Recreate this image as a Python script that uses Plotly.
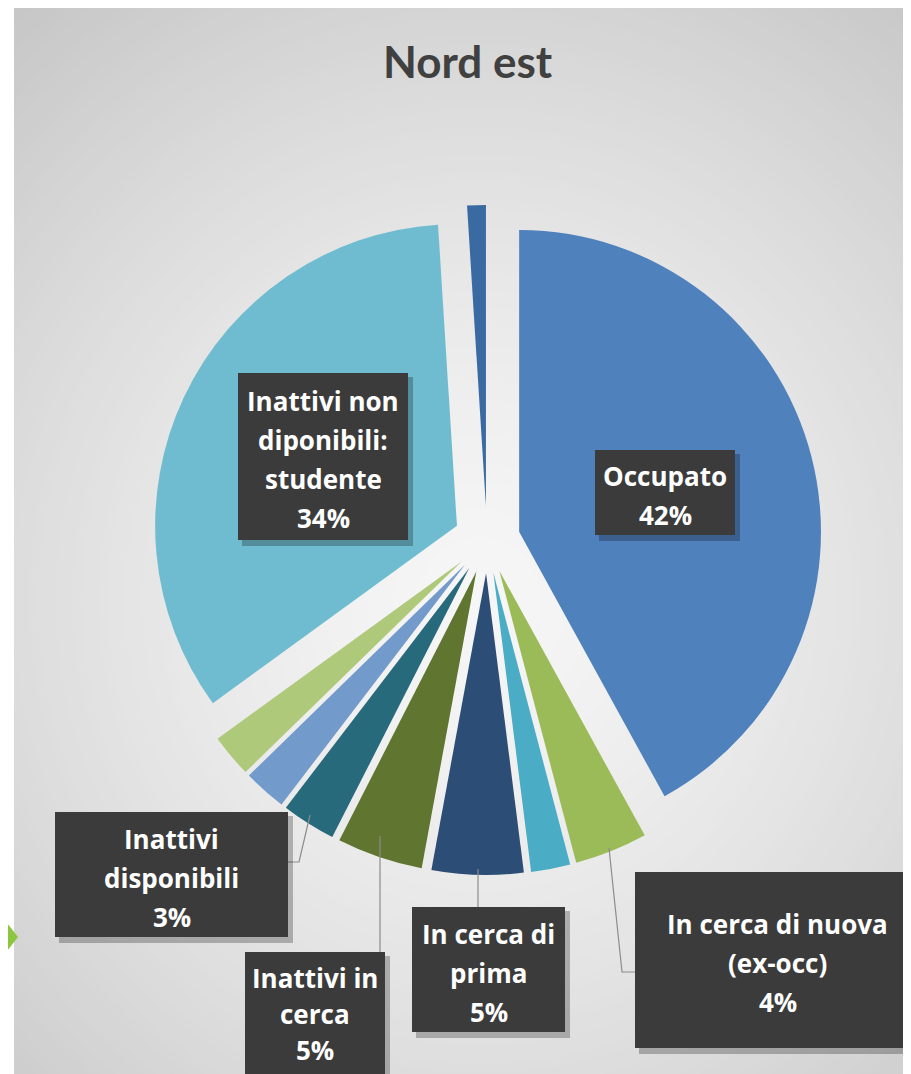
import plotly.graph_objects as go

# the page body adds an 8px margin; the figure is drawn from (8, 8) of the window
OFF = 8
W, H = 911 - OFF, 1074 - OFF

# ---- data ----
categories = [
    "Occupato",
    "In cerca di nuova (ex-occ)",
    "In cerca: altro",
    "In cerca di prima",
    "Inattivi in cerca",
    "Inattivi disponibili",
    "Inattivi non disponibili: altro",
    "Inattivi non disponibili: casalinga",
    "Inattivi non diponibili: studente",
    "Non indicato",
]
values = [42, 3.9, 2.1, 4.9, 4.6, 2.9, 2.3, 2.3, 34, 1.0]
label_lines = {
    0: ["Occupato"],
    1: ["In cerca di nuova", "(ex-occ)"],
    3: ["In cerca di", "prima"],
    4: ["Inattivi in", "cerca"],
    5: ["Inattivi", "disponibili"],
    8: ["Inattivi non", "diponibili:", "studente"],
}
title_text = "Nord est"

# ---- styles / layout ----
colors = ["#4F81BD", "#9BBB59", "#4BACC6", "#2C4D75", "#5F7530",
          "#276A7C", "#729ACA", "#AFC97A", "#6FBCD0", "#3A6AA2"]
FONT = "Open Sans"
TITLE_FONT = "Lato"
# label boxes in window pixels: left, top, width, height, text centre shift, line spacing
boxes = {
    0: (595, 450, 140, 85, 3, 39),
    1: (635, 872, 285, 176, 3, 39),
    3: (412, 907, 153, 125, 3, 39),
    4: (245, 952, 140, 130, -3, 36),
    5: (55, 812, 233, 125, 3, 39),
    8: (238, 373, 170, 167, 3, 39),
}
leaders = {
    1: [(635, 972), (622, 972), (609, 848)],
    3: [(478, 907), (478, 869)],
    4: [(380, 952), (380, 836)],
    5: [(288, 862), (299, 862), (310, 815)],
}


def fx(x):
    return (x - OFF) / W


def fy(y):
    return 1 - (y - OFF) / H


# pie geometry (window pixels)
cx, cy, half = 487, 540, 335
pull = 0.11

fig = go.Figure()
fig.add_trace(go.Pie(
    labels=categories,
    values=values,
    sort=False,
    direction="clockwise",
    rotation=0,
    pull=[pull] * len(values),
    marker=dict(colors=colors, line=dict(width=0)),
    textinfo="none",
    hoverinfo="label+percent",
    showlegend=False,
    domain=dict(x=[fx(cx - half), fx(cx + half)],
                y=[fy(cy + half), fy(cy - half)]),
))

shapes = []
# background radial gradient
gx, gy, R0 = 480, 600, 780
N = 90
c_in = (246, 246, 246)
c_out = (194, 194, 194)
for k in range(N):
    t = 1 - k / N
    r = R0 * t
    tt = t ** 1.4
    col = tuple(int(round(c_in[i] + (c_out[i] - c_in[i]) * tt)) for i in range(3))
    shapes.append(dict(type="circle", xref="paper", yref="paper", layer="below",
                       x0=fx(gx - r), x1=fx(gx + r), y0=fy(gy + r * 1.05), y1=fy(gy - r * 1.05),
                       fillcolor="rgb(%d,%d,%d)" % col, line=dict(width=0)))
# white slide margin on the left
shapes.append(dict(type="rect", xref="paper", yref="paper", layer="below",
                   x0=fx(0), x1=fx(14), y0=0, y1=1, fillcolor="white", line=dict(width=0)))
# green arrow on the slide
shapes.append(dict(type="path", xref="paper", yref="paper", layer="above",
                   path="M %f,%f L %f,%f L %f,%f Z" % (fx(7), fy(923), fx(18), fy(937), fx(7), fy(951)),
                   fillcolor="#8CC63F", line=dict(width=0)))

# leader lines
for idx, pts in leaders.items():
    path = "M " + " L ".join("%f,%f" % (fx(x), fy(y)) for x, y in pts)
    shapes.append(dict(type="path", xref="paper", yref="paper", layer="above",
                       path=path, line=dict(color="#8C8C8C", width=1.2)))

annotations = []
total = sum(values)
for idx, lines in label_lines.items():
    left, top, w, h, shift, gap = boxes[idx]
    # shadow
    shapes.append(dict(type="rect", xref="paper", yref="paper", layer="above",
                       x0=fx(left + 4), x1=fx(left + w + 5), y0=fy(top + h + 6), y1=fy(top + 4),
                       fillcolor="rgba(0,0,0,0.25)", line=dict(width=0)))
    shapes.append(dict(type="rect", xref="paper", yref="paper", layer="above",
                       x0=fx(left), x1=fx(left + w), y0=fy(top + h), y1=fy(top),
                       fillcolor="#3B3B3B", line=dict(width=0)))
    pct = "%d%%" % round(values[idx] / total * 100)
    all_lines = lines + [pct]
    n = len(all_lines)
    ccy = top + h / 2 + shift
    for i, ln in enumerate(all_lines):
        yy = ccy + (i - (n - 1) / 2) * gap
        annotations.append(dict(xref="paper", yref="paper", x=fx(left + w / 2), y=fy(yy),
                                xanchor="center", yanchor="middle", showarrow=False,
                                text="<b>%s</b>" % ln,
                                font=dict(family=FONT, size=26, color="white")))

annotations.append(dict(xref="paper", yref="paper", x=fx(468), y=fy(61),
                        xanchor="center", yanchor="middle", showarrow=False,
                        text="<b>%s</b>" % title_text,
                        font=dict(family=TITLE_FONT, size=44, color="#404040")))

fig.update_layout(
    width=W, height=H,
    margin=dict(l=0, r=0, t=0, b=0),
    paper_bgcolor="white",
    plot_bgcolor="white",
    shapes=shapes,
    annotations=annotations,
)

fig.write_html("out.html")
